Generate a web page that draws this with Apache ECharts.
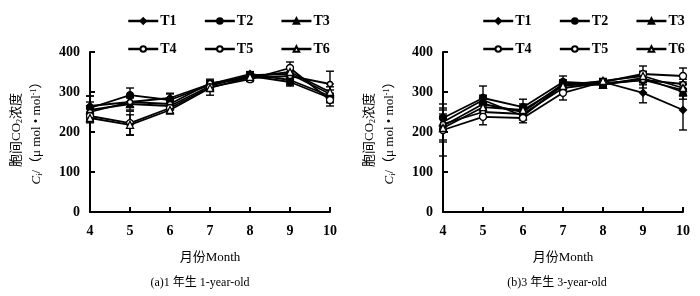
<!DOCTYPE html>
<html>
<head>
<meta charset="utf-8">
<script src="https://cdn.jsdelivr.net/npm/echarts@6/dist/echarts.min.js"></script>
<style>
html, body { margin: 0; padding: 0; background: #fff; }
#chart { width: 700px; height: 296px; }
</style>
</head>
<body>
<div id="chart"></div>
<script>
// 月份
const months = [4, 5, 6, 7, 8, 9, 10];
const names = ['T1', 'T2', 'T3', 'T4', 'T5', 'T6'];
const yTicks = [0, 100, 200, 300, 400];

// (a) 1 年生 — 均值
const aT1 = [265, 275, 285, 320, 345, 330, 290];
const aT2 = [260, 292, 280, 318, 340, 325, 285];
const aT3 = [255, 270, 265, 315, 342, 345, 295];
const aT4 = [250, 275, 270, 322, 335, 340, 320];
const aT5 = [240, 222, 260, 312, 332, 360, 280];
const aT6 = [235, 218, 255, 310, 338, 350, 300];
// (a) 标准误
const aE1 = [25, 12, 12, 8, 6, 12, 15];
const aE2 = [30, 18, 15, 8, 6, 10, 12];
const aE3 = [20, 15, 10, 8, 6, 12, 18];
const aE4 = [15, 12, 12, 10, 8, 10, 32];
const aE5 = [10, 30, 12, 8, 6, 15, 15];
const aE6 = [12, 25, 10, 18, 6, 12, 20];

// (b) 3 年生 — 均值
const bT1 = [215, 270, 250, 320, 325, 298, 255];
const bT2 = [235, 285, 262, 325, 320, 330, 305];
const bT3 = [225, 280, 240, 318, 318, 335, 300];
const bT4 = [220, 250, 245, 310, 322, 330, 320];
const bT5 = [205, 238, 235, 298, 325, 345, 340];
const bT6 = [210, 262, 255, 315, 328, 340, 310];
// (b) 标准误
const bE1 = [40, 15, 12, 10, 6, 25, 50];
const bE2 = [25, 30, 20, 15, 6, 20, 15];
const bE3 = [20, 12, 10, 12, 6, 10, 18];
const bE4 = [15, 15, 12, 10, 6, 12, 12];
const bE5 = [65, 20, 12, 18, 6, 20, 20];
const bE6 = [30, 12, 15, 10, 6, 12, 15];

const aVals = [aT1, aT2, aT3, aT4, aT5, aT6];
const aErrs = [aE1, aE2, aE3, aE4, aE5, aE6];
const bVals = [bT1, bT2, bT3, bT4, bT5, bT6];
const bErrs = [bE1, bE2, bE3, bE4, bE5, bE6];

const FONT = '"Liberation Serif", "Noto Sans CJK SC", serif';

const symbols = [
  { symbol: 'diamond', size: 7, fill: '#000' },
  { symbol: 'circle', size: 7, fill: '#000' },
  { symbol: 'triangle', size: 7, fill: '#000' },
  { symbol: 'circle', size: 5, fill: '#fff' },
  { symbol: 'circle', size: 7, fill: '#fff' },
  { symbol: 'triangle', size: 7, fill: '#fff' }
];

function errorRender(params, api) {
  const x = api.value(0);
  const top = api.coord([x, api.value(2)]);
  const bot = api.coord([x, api.value(1)]);
  const w = 4;
  const st = { stroke: '#000', lineWidth: 1.4 };
  return {
    type: 'group',
    children: [
      { type: 'line', shape: { x1: top[0], y1: top[1], x2: bot[0], y2: bot[1] }, style: st },
      { type: 'line', shape: { x1: top[0] - w, y1: top[1], x2: top[0] + w, y2: top[1] }, style: st },
      { type: 'line', shape: { x1: bot[0] - w, y1: bot[1], x2: bot[0] + w, y2: bot[1] }, style: st }
    ]
  };
}

function buildSeries(vals, errs, idx) {
  const out = [];
  const errData = [];
  vals.forEach((v, i) => {
    v.forEach((y, j) => errData.push([months[j], y - errs[i][j], y + errs[i][j]]));
  });
  out.push({
    type: 'custom',
    xAxisIndex: idx,
    yAxisIndex: idx,
    renderItem: errorRender,
    data: errData,
    z: 1,
    silent: true
  });
  vals.forEach((v, i) => {
    const s = symbols[i];
    out.push({
      name: names[i],
      type: 'line',
      xAxisIndex: idx,
      yAxisIndex: idx,
      data: v.map((y, j) => [months[j], y]),
      symbol: s.symbol,
      symbolSize: s.size,
      showAllSymbol: true,
      lineStyle: { color: '#000', width: 1.8 },
      itemStyle: { color: s.fill, borderColor: '#000', borderWidth: 1.3 },
      z: 2 + i
    });
  });
  return out;
}

function xAxis(idx) {
  return {
    type: 'value', gridIndex: idx, min: 4, max: 10, interval: 1,
    axisLine: { lineStyle: { color: '#000', width: 2 } },
    axisTick: { inside: true, length: 5, lineStyle: { color: '#000', width: 2 } },
    axisLabel: { color: '#000', fontFamily: FONT, fontSize: 14, fontWeight: 'bold', margin: 12 },
    splitLine: { show: false }
  };
}
function yAxis(idx) {
  return {
    type: 'value', gridIndex: idx, min: yTicks[0], max: yTicks[yTicks.length - 1], interval: 100,
    axisLine: { show: true, lineStyle: { color: '#000', width: 2 } },
    axisTick: { show: true, inside: true, length: 5, lineStyle: { color: '#000', width: 2 } },
    axisLabel: { color: '#000', fontFamily: FONT, fontSize: 14, fontWeight: 'bold', margin: 10 },
    splitLine: { show: false }
  };
}

function legend(left, top, data) {
  return {
    data: data, left: left, top: top, orient: 'horizontal',
    itemWidth: 30, itemHeight: 7, itemGap: 27, selectedMode: false,
    lineStyle: { width: 2.5 },
    textStyle: { color: '#000', fontFamily: FONT, fontSize: 14, fontWeight: 'bold', padding: [0, 0, 0, -3] }
  };
}

const rich = {
  n: { fontFamily: FONT, fontSize: 13, fill: '#000' },
  sub: { fontFamily: FONT, fontSize: 8, fill: '#000', verticalAlign: 'bottom', padding: [6, 0, 0, 0] },
  sup: { fontFamily: FONT, fontSize: 8, fill: '#000', verticalAlign: 'top', padding: [0, 0, 6, 0] },
  it: { fontFamily: FONT, fontSize: 13, fontStyle: 'italic', fill: '#000' }
};

function yName(x, y) {
  return [
    {
      type: 'text', x: x, y: y, rotation: Math.PI / 2,
      style: { text: '{n|胞间CO}{sub|2}{n|浓度}', rich: rich, align: 'center', verticalAlign: 'middle' }
    },
    {
      type: 'text', x: x + 20, y: y, rotation: Math.PI / 2,
      style: { text: '{it|C}{sub|i}{n|/（μ mol • mol}{sup|-1}{n|）}', rich: rich, align: 'center', verticalAlign: 'middle' }
    }
  ];
}

function caption(x, y, text, size) {
  return {
    type: 'text', x: x, y: y,
    style: { text: text, fontFamily: FONT, fontSize: size, fill: '#000', align: 'center', verticalAlign: 'middle' }
  };
}

const chart = echarts.init(document.getElementById('chart'));
chart.setOption({
  animation: false,
  backgroundColor: '#fff',
  grid: [
    { left: 90, top: 52, width: 240, height: 160 },
    { left: 443, top: 52, width: 240, height: 160 }
  ],
  xAxis: [xAxis(0), xAxis(1)],
  yAxis: [yAxis(0), yAxis(1)],
  legend: [
    legend(122, 9, ['T1', 'T2', 'T3']),
    legend(122, 37, ['T4', 'T5', 'T6']),
    legend(477, 9, ['T1', 'T2', 'T3']),
    legend(477, 37, ['T4', 'T5', 'T6'])
  ],
  graphic: [
    ...yName(17, 130),
    ...yName(370, 130),
    caption(210, 258, '月份Month', 13),
    caption(563, 258, '月份Month', 13),
    caption(200, 283, '(a)1 年生 1-year-old', 12),
    caption(557, 283, '(b)3 年生 3-year-old', 12)
  ],
  series: [...buildSeries(aVals, aErrs, 0), ...buildSeries(bVals, bErrs, 1)]
});
</script>
</body>
</html>
